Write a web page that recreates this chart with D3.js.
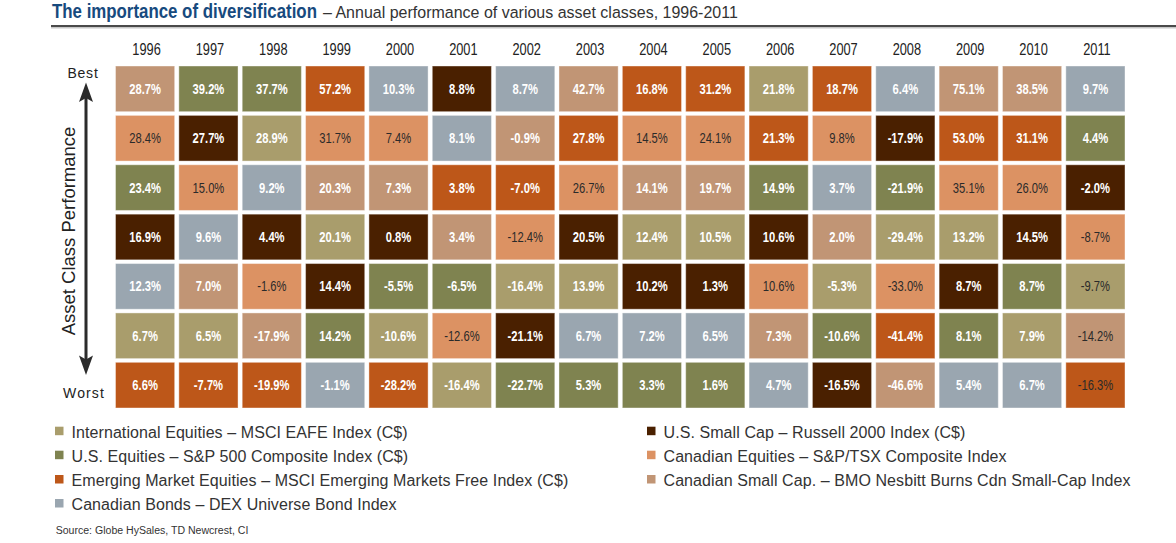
<!DOCTYPE html>
<html><head><meta charset="utf-8">
<script src="https://cdn.jsdelivr.net/npm/d3@7"></script>
<style>
body{margin:0;background:#fff;}
svg text{font-family:"Liberation Sans",Arial,sans-serif;}
</style></head>
<body><svg id="c" width="1176" height="543"></svg>
<script>
const years = ["1996","1997","1998","1999","2000","2001","2002","2003","2004","2005","2006","2007","2008","2009","2010","2011"];
const catKeys = ["I","U","E","B","S","C","K"];
const catLabels = [
 "International Equities – MSCI EAFE Index (C$)",
 "U.S. Equities – S&P 500 Composite Index (C$)",
 "Emerging Market Equities – MSCI Emerging Markets Free Index (C$)",
 "Canadian Bonds – DEX Universe Bond Index",
 "U.S. Small Cap – Russell 2000 Index (C$)",
 "Canadian Equities – S&P/TSX Composite Index",
 "Canadian Small Cap. – BMO Nesbitt Burns Cdn Small-Cap Index"
];
const catColors = ["#a99d6c","#7f8350","#bd5719","#9aa6b0","#4a2000","#dc9263","#c19575"];
// asset class for each rank (best -> worst), per year
const rankCodes = [
 ["K","C","U","S","B","I","E"],
 ["U","S","C","B","K","I","E"],
 ["U","I","B","S","C","K","E"],
 ["E","C","K","I","S","U","B"],
 ["B","C","K","S","U","I","E"],
 ["S","B","E","K","U","C","I"],
 ["B","K","E","C","I","S","U"],
 ["K","E","C","S","I","B","U"],
 ["E","C","K","I","S","B","U"],
 ["E","C","K","I","S","B","U"],
 ["I","E","U","S","C","K","B"],
 ["E","C","B","K","I","U","S"],
 ["B","S","U","I","C","E","K"],
 ["K","E","C","I","S","U","B"],
 ["K","E","C","S","U","I","B"],
 ["B","U","S","C","I","K","E"]
];
const rankValues = [
 [28.7,28.4,23.4,16.9,12.3,6.7,6.6],
 [39.2,27.7,15.0,9.6,7.0,6.5,-7.7],
 [37.7,28.9,9.2,4.4,-1.6,-17.9,-19.9],
 [57.2,31.7,20.3,20.1,14.4,14.2,-1.1],
 [10.3,7.4,7.3,0.8,-5.5,-10.6,-28.2],
 [8.8,8.1,3.8,3.4,-6.5,-12.6,-16.4],
 [8.7,-0.9,-7.0,-12.4,-16.4,-21.1,-22.7],
 [42.7,27.8,26.7,20.5,13.9,6.7,5.3],
 [16.8,14.5,14.1,12.4,10.2,7.2,3.3],
 [31.2,24.1,19.7,10.5,1.3,6.5,1.6],
 [21.8,21.3,14.9,10.6,10.6,7.3,4.7],
 [18.7,9.8,3.7,2.0,-5.3,-10.6,-16.5],
 [6.4,-17.9,-21.9,-29.4,-33.0,-41.4,-46.6],
 [75.1,53.0,35.1,13.2,8.7,8.1,5.4],
 [38.5,31.1,26.0,14.5,8.7,7.9,6.7],
 [9.7,4.4,-2.0,-8.7,-9.7,-14.2,-16.3]
];
const darkLabelCodes = ["C"];
const darkLabelExceptions = ["2011-I","2011-K","2011-E"];
const rankLabels = ["Best","Worst"];
const titleText = "The importance of diversification";
const subtitleText = "– Annual performance of various asset classes, 1996-2011";
const axisTitle = "Asset Class Performance";
const sourceText = "Source: Globe HySales, TD Newcrest, CI";

const svg = d3.select("#c");
const color = d3.scaleOrdinal().domain(catKeys).range(catColors);
const x = d3.scaleBand().domain(years).range([115.5,1125]).paddingInner(0.066);
const y = d3.scaleBand().domain(d3.range(7)).range([66,408]).paddingInner(0.075);
const COND = 0.8;

// fit a text horizontally into a target width by scaling (condensed look)
function fitWidth(sel, left, baseline, target){
  const w = sel.node().getComputedTextLength();
  sel.attr("x",0).attr("y",0).attr("transform",`translate(${left},${baseline}) scale(${target/w},1)`);
}

// title
fitWidth(svg.append("text").attr("fill","#174a7e").attr("font-weight","bold").attr("font-size",19.5).text(titleText), 52, 17.5, 265);
fitWidth(svg.append("text").attr("fill","#333").attr("font-size",17).text(subtitleText), 323, 17.5, 415);
svg.append("rect").attr("x",51).attr("y",25).attr("width",1125).attr("height",2).attr("fill","#4a4a4a");
svg.append("rect").attr("x",51).attr("y",27).attr("width",1125).attr("height",1.5).attr("fill","#c8c8c8");

// year labels
const xAxis = d3.axisTop(x).tickSize(0).tickPadding(0);
const gx = svg.append("g").attr("transform","translate(0,55)").call(xAxis);
gx.select(".domain").remove();
gx.selectAll("text").attr("font-size",16).attr("fill","#222").attr("dy",0)
 .attr("font-family","Liberation Sans, Arial, sans-serif")
 .attr("transform",`scale(${COND},1)`);
gx.selectAll(".tick").each(function(d){
  d3.select(this).attr("transform",`translate(${x(d)+x.bandwidth()/2+1.5},0)`);
});

// cells
const cells = [];
years.forEach((yr,i)=>rankCodes[i].forEach((c,r)=>cells.push({yr,r,c,v:rankValues[i][r]})));
const g = svg.append("g");
g.selectAll("rect").data(cells).join("rect")
 .attr("x",d=>x(d.yr)).attr("y",d=>y(d.r))
 .attr("width",x.bandwidth()).attr("height",y.bandwidth())
 .attr("fill",d=>color(d.c))
 .attr("stroke","rgba(255,255,255,0.4)").attr("stroke-width",1);
const isDark = d => darkLabelCodes.includes(d.c) || darkLabelExceptions.includes(d.yr+"-"+d.c);
g.selectAll("text").data(cells).join("text")
 .attr("transform",d=>`translate(${x(d.yr)+x.bandwidth()/2},${y(d.r)+y.bandwidth()/2+5}) scale(${COND},1)`)
 .attr("text-anchor","middle")
 .attr("font-size",14)
 .attr("font-weight",d=>isDark(d)?"normal":"bold")
 .attr("fill",d=>isDark(d)?"#2a2a2a":"#fff")
 .text(d=>d.v.toFixed(1)+"%");

// y-axis arrow
svg.append("text").attr("x",83).attr("y",78.3).attr("text-anchor","middle").attr("font-size",14)
 .attr("letter-spacing",0.8).attr("fill","#222").text(rankLabels[0]);
svg.append("text").attr("x",84).attr("y",397.7).attr("text-anchor","middle").attr("font-size",14)
 .attr("letter-spacing",1.1).attr("fill","#222").text(rankLabels[1]);
svg.append("line").attr("x1",86).attr("x2",86).attr("y1",96).attr("y2",362).attr("stroke","#2b2b2b").attr("stroke-width",3);
svg.append("path").attr("d","M86,82.5 L79,102 L86,98 L93,102 Z").attr("fill","#2b2b2b");
svg.append("path").attr("d","M86,375 L79,355.5 L86,359.5 L93,355.5 Z").attr("fill","#2b2b2b");
svg.append("text").attr("transform","translate(75,231) rotate(-90)").attr("text-anchor","middle")
 .attr("font-size",18.5).attr("fill","#222").text(axisTitle);

// legend
const legendPos = [[55,437.7],[55,461.7],[55,486],[55,510],[647,437.7],[647,461.7],[647,486]];
const lg = svg.append("g").selectAll("g").data(catKeys).join("g")
 .attr("transform",(d,i)=>`translate(${legendPos[i][0]},${legendPos[i][1]})`);
lg.append("rect").attr("x",0).attr("y",-11).attr("width",8.5).attr("height",8.5).attr("fill",d=>color(d));
lg.append("text").attr("x",16.5).attr("y",0).attr("font-size",16).attr("letter-spacing",0.08).attr("fill","#333")
 .text((d,i)=>catLabels[i]);

fitWidth(svg.append("text").attr("font-size",11).attr("fill","#333").text(sourceText), 55.7, 534, 193);
</script></body></html>
